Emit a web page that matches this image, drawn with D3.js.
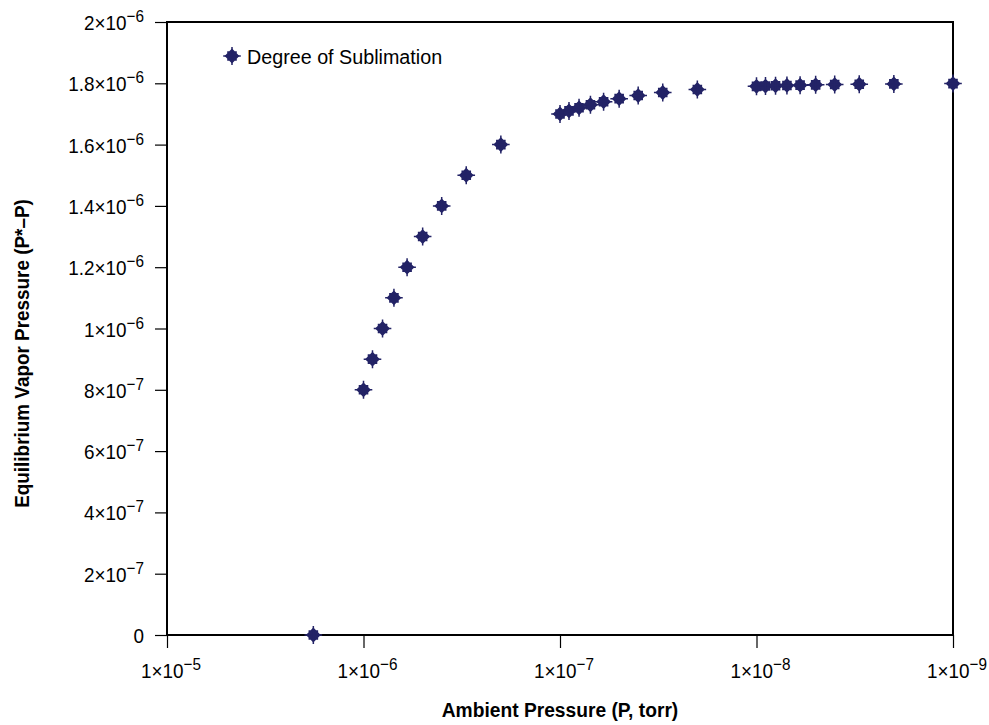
<!DOCTYPE html>
<html>
<head>
<meta charset="utf-8">
<script src="https://cdn.jsdelivr.net/npm/d3@7/dist/d3.min.js"></script>
<style>
  html, body { margin: 0; padding: 0; background: #fff; }
  svg { display: block; }
  text { font-family: "Liberation Sans", Arial, sans-serif; fill: #000; }
</style>
</head>
<body>
<svg id="chart" width="989" height="725"></svg>
<script>
// ---- data ----
const ambientPressure = [1.8e-6, 1e-6, 9e-7, 8e-7, 7e-7, 6e-7, 5e-7, 4e-7, 3e-7, 2e-7,
  1e-7, 9e-8, 8e-8, 7e-8, 6e-8, 5e-8, 4e-8, 3e-8, 2e-8,
  1e-8, 9e-9, 8e-9, 7e-9, 6e-9, 5e-9, 4e-9, 3e-9, 2e-9, 1e-9];
const vaporPressure = [0, 8e-7, 9e-7, 1.0e-6, 1.1e-6, 1.2e-6, 1.3e-6, 1.4e-6, 1.5e-6, 1.6e-6,
  1.70e-6, 1.71e-6, 1.72e-6, 1.73e-6, 1.74e-6, 1.75e-6, 1.76e-6, 1.77e-6, 1.78e-6,
  1.790e-6, 1.791e-6, 1.792e-6, 1.793e-6, 1.794e-6, 1.795e-6, 1.796e-6, 1.797e-6, 1.798e-6, 1.799e-6];
const seriesName = "Degree of Sublimation";
const xTickValues = [1e-5, 1e-6, 1e-7, 1e-8, 1e-9];
const xTickLabels = [["1×10", "−5"], ["1×10", "−6"], ["1×10", "−7"], ["1×10", "−8"], ["1×10", "−9"]];
const yTickValues = [0, 2e-7, 4e-7, 6e-7, 8e-7, 1e-6, 1.2e-6, 1.4e-6, 1.6e-6, 1.8e-6, 2e-6];
const yTickLabels = [["0", ""], ["2×10", "−7"], ["4×10", "−7"], ["6×10", "−7"], ["8×10", "−7"],
  ["1×10", "−6"], ["1.2×10", "−6"], ["1.4×10", "−6"], ["1.6×10", "−6"], ["1.8×10", "−6"], ["2×10", "−6"]];
const xTitle = "Ambient Pressure (P, torr)";
const yTitle = "Equilibrium Vapor Pressure (P*–P)";

// ---- layout ----
const margin = { left: 167, top: 22, right: 989 - 953, bottom: 725 - 635 };
const W = 989 - margin.left - margin.right;
const H = 725 - margin.top - margin.bottom;
const markColor = "#232366";
const SX = 0.9;

const svg = d3.select("#chart");
const g = svg.append("g").attr("transform", `translate(${margin.left},${margin.top})`);

const x = d3.scaleLog().domain([1e-5, 1e-9]).range([0, W]);
const y = d3.scaleLinear().domain([0, 2e-6]).range([H, 0]);

function label(parent, px, py, parts, opts) {
  const wrap = parent.append("g").attr("transform", `translate(${px},${py}) scale(${opts.sx || SX},1)`);
  const t = wrap.append("text")
    .attr("text-anchor", opts.anchor || "start")
    .style("font-size", (opts.size || 21) + "px")
    .style("font-weight", opts.bold ? "bold" : "normal");
  t.append("tspan").text(parts[0]);
  if (parts[1]) {
    t.append("tspan").attr("dy", -8).style("font-size", (opts.expSize || 17) + "px").text(parts[1]);
  }
  return wrap;
}

// x axis ticks
const xAxis = d3.axisBottom(x).tickValues(xTickValues).tickSize(13).tickFormat(() => "");
const gx = g.append("g").attr("transform", `translate(0,${H})`).call(xAxis);
gx.select(".domain").remove();
gx.selectAll(".tick line").attr("stroke", "#000").attr("stroke-width", 1.2);
xTickValues.forEach((v, i) => {
  label(g, x(v) + 4, H + 43, xTickLabels[i], { anchor: "middle" });
});

// y axis ticks
const yAxis = d3.axisLeft(y).tickValues(yTickValues).tickSize(12).tickFormat(() => "");
const gy = g.append("g").call(yAxis);
gy.select(".domain").remove();
gy.selectAll(".tick line").attr("stroke", "#000").attr("stroke-width", 1.2);
yTickValues.forEach((v, i) => {
  label(g, -23, y(v) + 8, yTickLabels[i], { anchor: "end" });
});

// frame
g.append("rect").attr("x", 0).attr("y", 0).attr("width", W).attr("height", H)
  .attr("fill", "none").attr("stroke", "#000").attr("stroke-width", 2);

// marker
function marker(sel) {
  sel.append("path")
    .attr("d", "M0,-7.4 L7.4,0 L0,7.4 L-7.4,0 Z M-4.8,-4.8 H4.8 V4.8 H-4.8 Z")
    .attr("fill", markColor);
  sel.append("path")
    .attr("d", "M0,-9 V9 M-8.8,0 H8.8")
    .attr("stroke", markColor).attr("stroke-width", 1.5);
}

const pts = ambientPressure.map((p, i) => ({ p, v: vaporPressure[i] }));
g.append("g").selectAll("g.pt").data(pts).join("g")
  .attr("class", "pt")
  .attr("transform", d => `translate(${x(d.p)},${y(d.v)})`)
  .each(function () { marker(d3.select(this)); });

// legend
const lg = svg.append("g").attr("transform", "translate(232,56)");
marker(lg);
label(svg, 247, 64, [seriesName, ""], { size: 21, sx: 0.94 });

// axis titles
label(svg, margin.left + W / 2, 717, [xTitle, ""], { anchor: "middle", bold: true, size: 21, sx: 0.915 });
const yt = svg.append("g").attr("transform", `translate(28.5,${margin.top + H / 2 + 25}) rotate(-90)`);
label(yt, 0, 0, [yTitle, ""], { anchor: "middle", bold: true, size: 21 });
</script>
</body>
</html>
